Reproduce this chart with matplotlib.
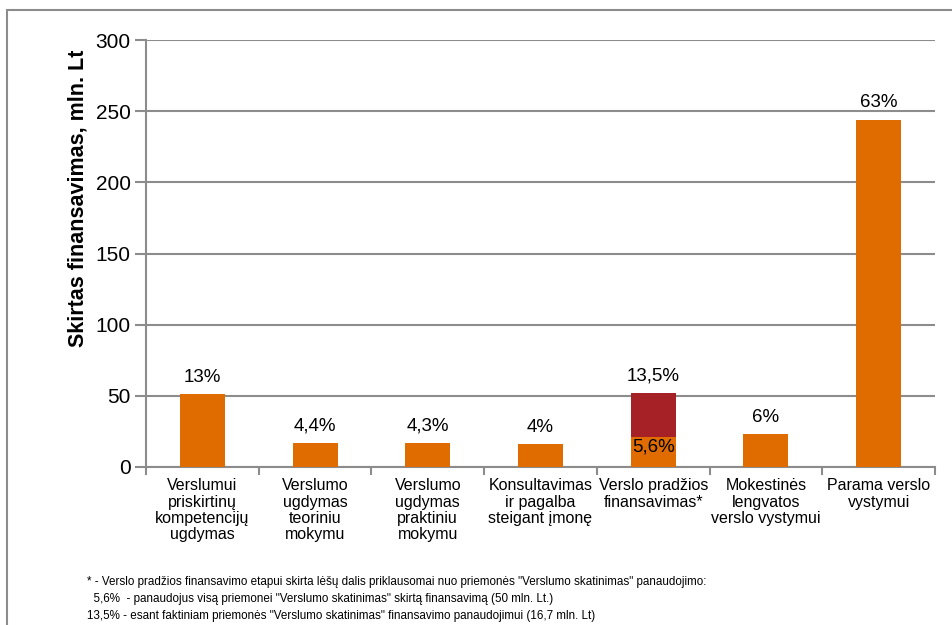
import matplotlib.pyplot as plt
from matplotlib.patches import Rectangle
import numpy as np

plt.rcParams['font.family'] = ['Liberation Sans', 'DejaVu Sans']

kategorijos = [
    "Verslumui\npriskirtinų\nkompetencijų\nugdymas",
    "Verslumo\nugdymas\nteoriniu\nmokymu",
    "Verslumo\nugdymas\npraktiniu\nmokymu",
    "Konsultavimas\nir pagalba\nsteigant įmonę",
    "Verslo pradžios\nfinansavimas*",
    "Mokestinės\nlengvatos\nverslo vystymui",
    "Parama verslo\nvystymui",
]
pagrindas = [51, 17, 17, 16, 21, 23, 244]
papildomai = [0, 0, 0, 0, 31, 0, 0]
procentai = ["13%", "4,4%", "4,3%", "4%", "13,5%", "6%", "63%"]
vidinis = ["", "", "", "", "5,6%", "", ""]

oranzine = '#E06C00'
raudona = '#A52125'
pilka = '#8C8C8C'

fig = plt.figure(figsize=(9.52, 6.25), dpi=100)
fig.patches.append(Rectangle((7 / 952, 0 - 0.01), 1.0, 1 - 10 / 625 + 0.01,
                             transform=fig.transFigure, fill=False,
                             edgecolor=pilka, linewidth=1.5))
ax = fig.add_axes([146 / 952, 1 - 467 / 625, (935 - 146) / 952, (467 - 40) / 625])

x = np.arange(len(kategorijos))
ax.bar(x, pagrindas, width=0.4, color=oranzine, zorder=3)
ax.bar(x, papildomai, width=0.4, bottom=pagrindas, color=raudona, zorder=3)

for i in range(len(x)):
    virsus = pagrindas[i] + papildomai[i]
    ax.text(x[i], virsus + 6, procentai[i], ha='center', va='bottom', fontsize=13.5)
    if vidinis[i]:
        ax.text(x[i], pagrindas[i] - 1, vidinis[i], ha='center', va='top', fontsize=13.5)

ax.set_xlim(-0.5, len(x) - 0.5)
ax.set_ylim(0, 300)
ax.set_yticks(np.arange(0, 301, 50))
ax.tick_params(axis='y', labelsize=15, length=8, color=pilka, width=1.5, pad=3)
ax.yaxis.grid(True, color=pilka, linewidth=1.5, zorder=0)
ax.set_axisbelow(True)

ax.set_xticks(np.arange(-0.5, len(x), 1))
ax.set_xticklabels([])
ax.set_xticks(x, minor=True)
ax.set_xticklabels(kategorijos, minor=True, fontsize=11.5, linespacing=1.12)
ax.tick_params(axis='x', which='major', length=6, color=pilka, width=1.5)
ax.tick_params(axis='x', which='minor', length=0, pad=8)

for s in ['top', 'right']:
    ax.spines[s].set_visible(False)
for s in ['left', 'bottom']:
    ax.spines[s].set_color(pilka)
    ax.spines[s].set_linewidth(1.5)

ax.set_ylabel("Skirtas finansavimas, mln. Lt", fontsize=15.5, fontweight='bold')
ax.yaxis.set_label_coords((89 - 146) / 789, (467 - 198) / 427)

pastaba = ('* - Verslo pradžios finansavimo etapui skirta lėšų dalis priklausomai nuo priemonės "Verslumo skatinimas" panaudojimo:\n'
           '  5,6%  - panaudojus visą priemonei "Verslumo skatinimas" skirtą finansavimą (50 mln. Lt.)\n'
           '13,5% - esant faktiniam priemonės "Verslumo skatinimas" finansavimo panaudojimui (16,7 mln. Lt)')
fig.text(87 / 952, 1 - 576 / 625, pastaba, fontsize=8.4, va='top', ha='left', linespacing=1.55)

fig.savefig('out.png', dpi=100)
